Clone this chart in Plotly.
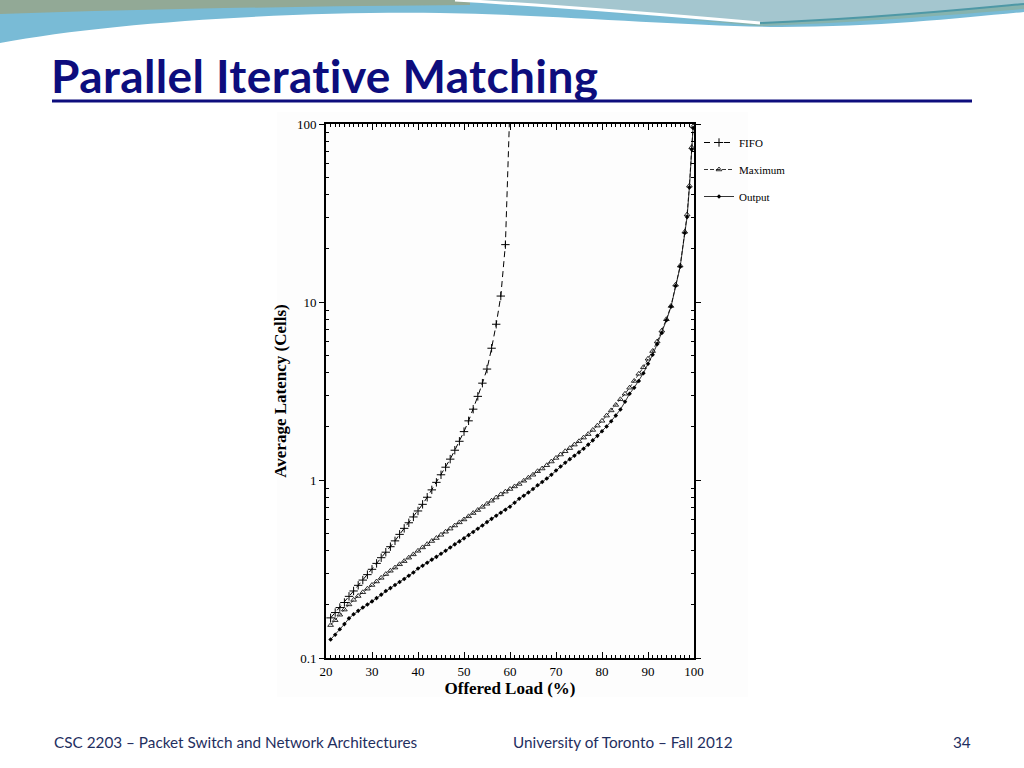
import plotly.graph_objects as go

# ---------------- data ----------------
fifo_load = [21, 22, 23, 24, 25, 26, 27, 28, 29, 30, 31, 32, 33, 34, 35, 36, 37, 38, 39, 40,
             41, 42, 43, 44, 45, 46, 47, 48, 49, 50, 51, 52, 53, 54, 55, 56, 57, 58, 59, 60]
fifo_latency = [0.168, 0.180, 0.192, 0.205, 0.222, 0.238, 0.256, 0.274, 0.294, 0.315,
                0.340, 0.366, 0.393, 0.422, 0.455, 0.495, 0.535, 0.575, 0.620, 0.670,
                0.730, 0.800, 0.880, 0.970, 1.07, 1.18, 1.31, 1.47, 1.65, 1.87,
                2.15, 2.50, 2.95, 3.50, 4.20, 5.50, 7.50, 10.8, 21.0, 130.0]

load = [21, 22, 23, 24, 25, 26, 27, 28, 29, 30, 31, 32, 33, 34, 35, 36, 37, 38, 39, 40,
        41, 42, 43, 44, 45, 46, 47, 48, 49, 50, 51, 52, 53, 54, 55, 56, 57, 58, 59, 60,
        61, 62, 63, 64, 65, 66, 67, 68, 69, 70, 71, 72, 73, 74, 75, 76, 77, 78, 79, 80,
        81, 82, 83, 84, 85, 86, 87, 88, 89, 90, 91, 92, 93, 94, 95, 96, 97, 98, 98.5,
        99, 99.5, 99.8]
maximum_latency = [0.153, 0.163, 0.175, 0.187, 0.200, 0.212, 0.223, 0.234, 0.245, 0.257,
                   0.269, 0.282, 0.296, 0.309, 0.322, 0.336, 0.350, 0.366, 0.382, 0.400,
                   0.418, 0.436, 0.454, 0.472, 0.492, 0.512, 0.533, 0.555, 0.578, 0.600,
                   0.625, 0.652, 0.678, 0.706, 0.735, 0.765, 0.797, 0.830, 0.860, 0.890,
                   0.92, 0.95, 0.99, 1.03, 1.07, 1.12, 1.16, 1.21, 1.27, 1.33,
                   1.39, 1.45, 1.51, 1.58, 1.65, 1.73, 1.81, 1.91, 2.02, 2.15,
                   2.30, 2.46, 2.64, 2.84, 3.05, 3.30, 3.60, 3.95, 4.30, 4.80,
                   5.30, 6.00, 6.90, 8.00, 9.50, 12.5, 16.0, 24.8, 31.0,
                   45.0, 74.0, 97.0]
output_latency = [0.127, 0.135, 0.145, 0.155, 0.167, 0.176, 0.184, 0.192, 0.200, 0.208,
                  0.217, 0.227, 0.238, 0.247, 0.257, 0.267, 0.278, 0.290, 0.302, 0.318,
                  0.330, 0.343, 0.357, 0.370, 0.385, 0.400, 0.418, 0.435, 0.452, 0.470,
                  0.490, 0.510, 0.532, 0.555, 0.580, 0.605, 0.630, 0.655, 0.680, 0.708,
                  0.745, 0.785, 0.815, 0.850, 0.890, 0.935, 0.975, 1.02, 1.07, 1.13,
                  1.19, 1.25, 1.31, 1.37, 1.43, 1.50, 1.58, 1.67, 1.77, 1.88,
                  2.00, 2.14, 2.30, 2.49, 2.75, 3.05, 3.30, 3.60, 3.98, 4.50,
                  5.05, 5.80, 6.70, 7.90, 9.40, 12.3, 15.8, 24.4, 30.0,
                  44.0, 72.0, 95.0]

x_ticks = [20, 30, 40, 50, 60, 70, 80, 90, 100]
y_ticks = [0.1, 1, 10, 100]
y_tick_text = ["0.1", "1", "10", "100"]

# ---------------- geometry helpers (pixel -> paper) ----------------
W, H = 1024, 768
L, R, T, B = 326, 694, 124, 658


def px(x):
    return (x - L) / (R - L)


def py(y):
    return (B - y) / (B - T)


def path(cmds):
    out = []
    for c in cmds:
        if isinstance(c, str):
            out.append(c)
        else:
            out.append(f"{px(c[0]):.5f},{py(c[1]):.5f}")
    return " ".join(out)


NAVY = "#0d0d7d"
FOOT = "#1f2f5f"
SERIF = "Liberation Serif, Times New Roman, serif"
SANS = "Lato, Open Sans, sans-serif"

fig = go.Figure()
fig.add_trace(go.Scatter(
    x=fifo_load, y=fifo_latency, name="FIFO", mode="lines+markers",
    line=dict(color="black", width=1, dash="6px,4px"),
    marker=dict(symbol="cross-thin-open", size=6, color="black",
                line=dict(color="black", width=1)),
    legendgroup="a"))
fig.add_trace(go.Scatter(
    x=load, y=maximum_latency, name="Maximum", mode="lines+markers",
    line=dict(color="black", width=0.8, dash="4px,2px"),
    marker=dict(symbol="triangle-up-open", size=5, color="black",
                line=dict(color="black", width=0.8)),
    legendgroup="b"))
fig.add_trace(go.Scatter(
    x=load, y=output_latency, name="Output", mode="lines+markers",
    line=dict(color="black", width=0.8),
    marker=dict(symbol="diamond", size=3.5, color="black"),
    legendgroup="c"))

y_minor = [m * 10 ** e for e in (-1, 0, 1) for m in range(2, 10)]

fig.update_xaxes(
    range=[20, 100], tickvals=x_ticks, ticks="inside", ticklen=6, tickwidth=1,
    tickcolor="black", showline=True, linecolor="black", linewidth=2,
    mirror="ticks", showgrid=False, zeroline=False,
    tickfont=dict(family=SERIF, size=13, color="black"),
    minor=dict(dtick=1, ticks="inside", ticklen=3, tickcolor="black", showgrid=False),
    title=dict(text="<b>Offered Load (%)</b>", standoff=2,
               font=dict(family=SERIF, size=17, color="black")))
fig.update_yaxes(
    type="log", range=[-1, 2], tickvals=y_ticks, ticktext=y_tick_text,
    ticks="outside", ticklen=5, tickwidth=1, tickcolor="black",
    showline=True, linecolor="black", linewidth=2, mirror="ticks",
    showgrid=False, zeroline=False,
    tickfont=dict(family=SERIF, size=13, color="black"),
    minor=dict(tickvals=y_minor, ticks="inside", ticklen=3, tickcolor="black",
               showgrid=False),
    title=dict(text="<b>Average Latency (Cells)</b>", standoff=6,
               font=dict(family=SERIF, size=17, color="black")))

shapes = [
    # light background of the chart picture
    dict(type="rect", xref="paper", yref="paper", x0=px(277), x1=px(748),
         y0=py(697), y1=py(112), fillcolor="#fdfdfd", line=dict(width=0), layer="below"),
    # top decorative wave
    dict(type="path", xref="paper", yref="paper", layer="above",
         path=path(["M", (0, 0), "L", (0, 43), "C", (110, 22), (300, 11), (440, 13),
                    "C", (560, 15), (680, 26), (780, 27), "C", (880, 27), (960, 18), (1024, 12),
                    "L", (1024, 0), "Z"]),
         fillcolor="#79bbd6", line=dict(width=0)),
    dict(type="path", xref="paper", yref="paper", layer="above",
         path=path(["M", (0, 0), "L", (0, 14), "C", (150, 9), (320, 6), (470, 5),
                    "L", (470, 0), "Z"]),
         fillcolor="#92a996", line=dict(width=0)),
    dict(type="path", xref="paper", yref="paper", layer="above",
         path=path(["M", (455, 0), "C", (560, 6), (680, 16), (760, 23),
                    "C", (870, 19), (960, 10), (1024, 4), "L", (1024, 0), "Z"]),
         fillcolor="#a4c6cf", line=dict(width=0)),
    dict(type="path", xref="paper", yref="paper", layer="above",
         path=path(["M", (600, 12), "C", (660, 18), (720, 22), (760, 23),
                    "C", (870, 19), (960, 10), (1024, 4), "L", (1024, 9),
                    "C", (960, 14), (870, 22), (760, 26), "Z"]),
         fillcolor="#8fae92", line=dict(width=0), opacity=0.6),
    dict(type="path", xref="paper", yref="paper", layer="above",
         path=path(["M", (455, 0), "C", (560, 6), (680, 16), (760, 23)]),
         line=dict(color="white", width=3)),
    dict(type="path", xref="paper", yref="paper", layer="above",
         path=path(["M", (760, 23), "C", (870, 19), (960, 10), (1024, 4)]),
         line=dict(color="#4e98a6", width=2)),
    # title underline
    dict(type="line", xref="paper", yref="paper", x0=px(52), x1=px(972),
         y0=py(101), y1=py(101), line=dict(color=NAVY, width=3)),
]

annotations = [
    dict(text="<span style=\"letter-spacing:0.4px\"><b>Parallel Iterative Matching</b></span>",
         x=px(49), y=py(75),
         xref="paper", yref="paper", xanchor="left", yanchor="middle", showarrow=False,
         font=dict(family=SANS, size=46, color=NAVY)),
    dict(text="CSC 2203 – Packet Switch and Network Architectures", x=px(52), y=py(742),
         xref="paper", yref="paper", xanchor="left", yanchor="middle", showarrow=False,
         font=dict(family=SANS, size=15.3, color=FOOT)),
    dict(text="University of Toronto – Fall 2012", x=px(623), y=py(742),
         xref="paper", yref="paper", xanchor="center", yanchor="middle", showarrow=False,
         font=dict(family=SANS, size=15.3, color=FOOT)),
    dict(text="34", x=px(973), y=py(742),
         xref="paper", yref="paper", xanchor="right", yanchor="middle", showarrow=False,
         font=dict(family=SANS, size=15.3, color=FOOT)),
]

fig.update_layout(
    width=W, height=H,
    margin=dict(l=L, r=W - R, t=T, b=H - B, pad=0),
    paper_bgcolor="white", plot_bgcolor="white",
    showlegend=True,
    legend=dict(x=px(699), y=py(128), xanchor="left", yanchor="top",
                bgcolor="rgba(0,0,0,0)", itemwidth=30, tracegroupgap=8,
                font=dict(family=SERIF, size=11, color="black")),
    shapes=shapes, annotations=annotations,
)

fig.write_html("out.html", config={"displayModeBar": False},
               post_script="document.body.style.margin='0';document.body.style.overflow='hidden';")
